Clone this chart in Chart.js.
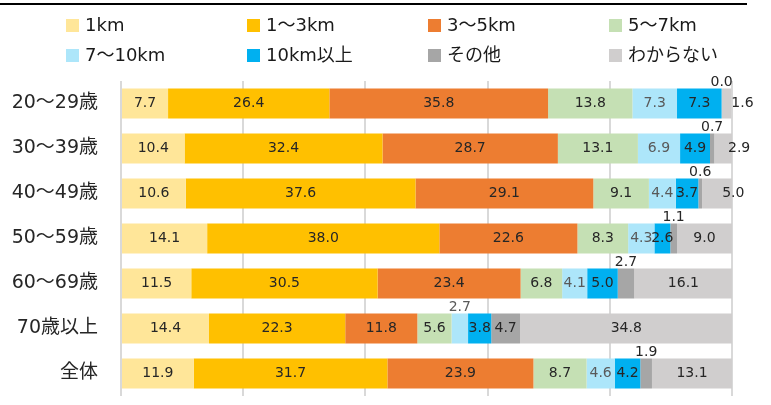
<!DOCTYPE html>
<html>
<head>
<meta charset="utf-8">
<script src="https://cdn.jsdelivr.net/npm/chart.js@4"></script>
<style>
  html, body { margin: 0; padding: 0; background: #fff; }
  #wrap { position: relative; width: 771px; height: 405px; }
</style>
</head>
<body>
<div id="wrap"><canvas id="chart" width="771" height="405"></canvas></div>
<script>
// 年代
const ageGroups = ['20～29歳', '30～39歳', '40～49歳', '50～59歳', '60～69歳', '70歳以上', '全体'];
const seriesNames = ['1km', '1～3km', '3～5km', '5～7km', '7～10km', '10km以上', 'その他', 'わからない'];
const seriesColors = ['#FFE699', '#FFC000', '#ED7D31', '#C5E0B4', '#ADE6FA', '#00B0F0', '#A6A6A6', '#D0CECE'];

// 各距離の割合 (%)
const km1     = [7.7, 10.4, 10.6, 14.1, 11.5, 14.4, 11.9];
const km1to3  = [26.4, 32.4, 37.6, 38.0, 30.5, 22.3, 31.7];
const km3to5  = [35.8, 28.7, 29.1, 22.6, 23.4, 11.8, 23.9];
const km5to7  = [13.8, 13.1, 9.1, 8.3, 6.8, 5.6, 8.7];
const km7to10 = [7.3, 6.9, 4.4, 4.3, 4.1, 2.7, 4.6];
const km10up  = [7.3, 4.9, 3.7, 2.6, 5.0, 3.8, 4.2];
const other   = [0.0, 0.7, 0.6, 1.1, 2.7, 4.7, 1.9];
const unknown = [1.6, 2.9, 5.0, 9.0, 16.1, 34.8, 13.1];
const seriesValues = [km1, km1to3, km3to5, km5to7, km7to10, km10up, other, unknown];

const FONT = '"DejaVu Sans", "Noto Sans CJK JP", sans-serif';

// 値ラベル
const valueLabels = {
    id: 'valueLabels',
    afterDatasetsDraw(chart) {
        const ctx = chart.ctx;
        ctx.save();
        ctx.font = '14px ' + FONT;
        ctx.textAlign = 'center';
        chart.data.datasets.forEach((ds, di) => {
            const meta = chart.getDatasetMeta(di);
            meta.data.forEach((bar, i) => {
                const v = ds.data[i];
                const txt = v.toFixed(1);
                const cx = (bar.x + bar.base) / 2;
                const top = bar.y - bar.height / 2;
                ctx.fillStyle = di === 4 ? '#595959' : '#262626';
                if (v < 3 && (di === 4 || di === 6)) {
                    // 小さい値はバーの上
                    ctx.textBaseline = 'alphabetic';
                    ctx.fillText(txt, cx, top - 2);
                } else if (di === 7 && v < 6) {
                    ctx.textBaseline = 'middle';
                    ctx.fillText(txt, cx + 16, bar.y);
                } else {
                    ctx.textBaseline = 'middle';
                    ctx.fillText(txt, cx, bar.y);
                }
            });
        });
        ctx.restore();
    }
};

// 凡例と上の線
const topLegend = {
    id: 'topLegend',
    afterDraw(chart) {
        const ctx = chart.ctx;
        ctx.save();
        ctx.fillStyle = '#000';
        ctx.fillRect(0, 3, 747, 2);
        ctx.font = '18px ' + FONT;
        ctx.textAlign = 'left';
        ctx.textBaseline = 'alphabetic';
        const cols = [66, 247, 428, 609];
        const rows = [19, 49];
        chart.data.datasets.forEach((ds, i) => {
            const x = cols[i % 4];
            const y = rows[Math.floor(i / 4)];
            ctx.fillStyle = ds.backgroundColor;
            ctx.fillRect(x, y, 13, 13);
            ctx.fillStyle = '#1a1a1a';
            ctx.fillText(ds.label, x + 19, y + 12);
        });
        ctx.restore();
    }
};

new Chart(document.getElementById('chart'), {
    type: 'bar',
    data: {
        labels: ageGroups,
        datasets: seriesNames.map((name, i) => ({
            label: name,
            data: seriesValues[i],
            backgroundColor: seriesColors[i],
            borderWidth: 0,
            barPercentage: 0.667,
            categoryPercentage: 1
        }))
    },
    options: {
        indexAxis: 'y',
        responsive: false,
        animation: false,
        layout: { padding: { top: 81, bottom: 9, left: 0, right: 39 } },
        plugins: {
            legend: { display: false },
            tooltip: { enabled: false }
        },
        scales: {
            x: {
                stacked: true,
                min: 0,
                max: 100,
                ticks: { display: false, stepSize: 20 },
                grid: { color: '#D9D9D9', lineWidth: 2, drawTicks: false },
                border: { display: false },
                afterFit(scale) {
                    scale.height = 0;
                    scale.paddingLeft = 0;
                    scale.paddingRight = 0;
                }
            },
            y: {
                stacked: true,
                grid: { display: false, drawTicks: false },
                border: { display: false },
                ticks: { color: '#262626', font: { family: FONT, size: 19 }, padding: 23 },
                afterFit(scale) {
                    scale.width = 121;
                    scale.paddingTop = 0;
                    scale.paddingBottom = 0;
                }
            }
        }
    },
    plugins: [valueLabels, topLegend]
});
</script>
</body>
</html>
